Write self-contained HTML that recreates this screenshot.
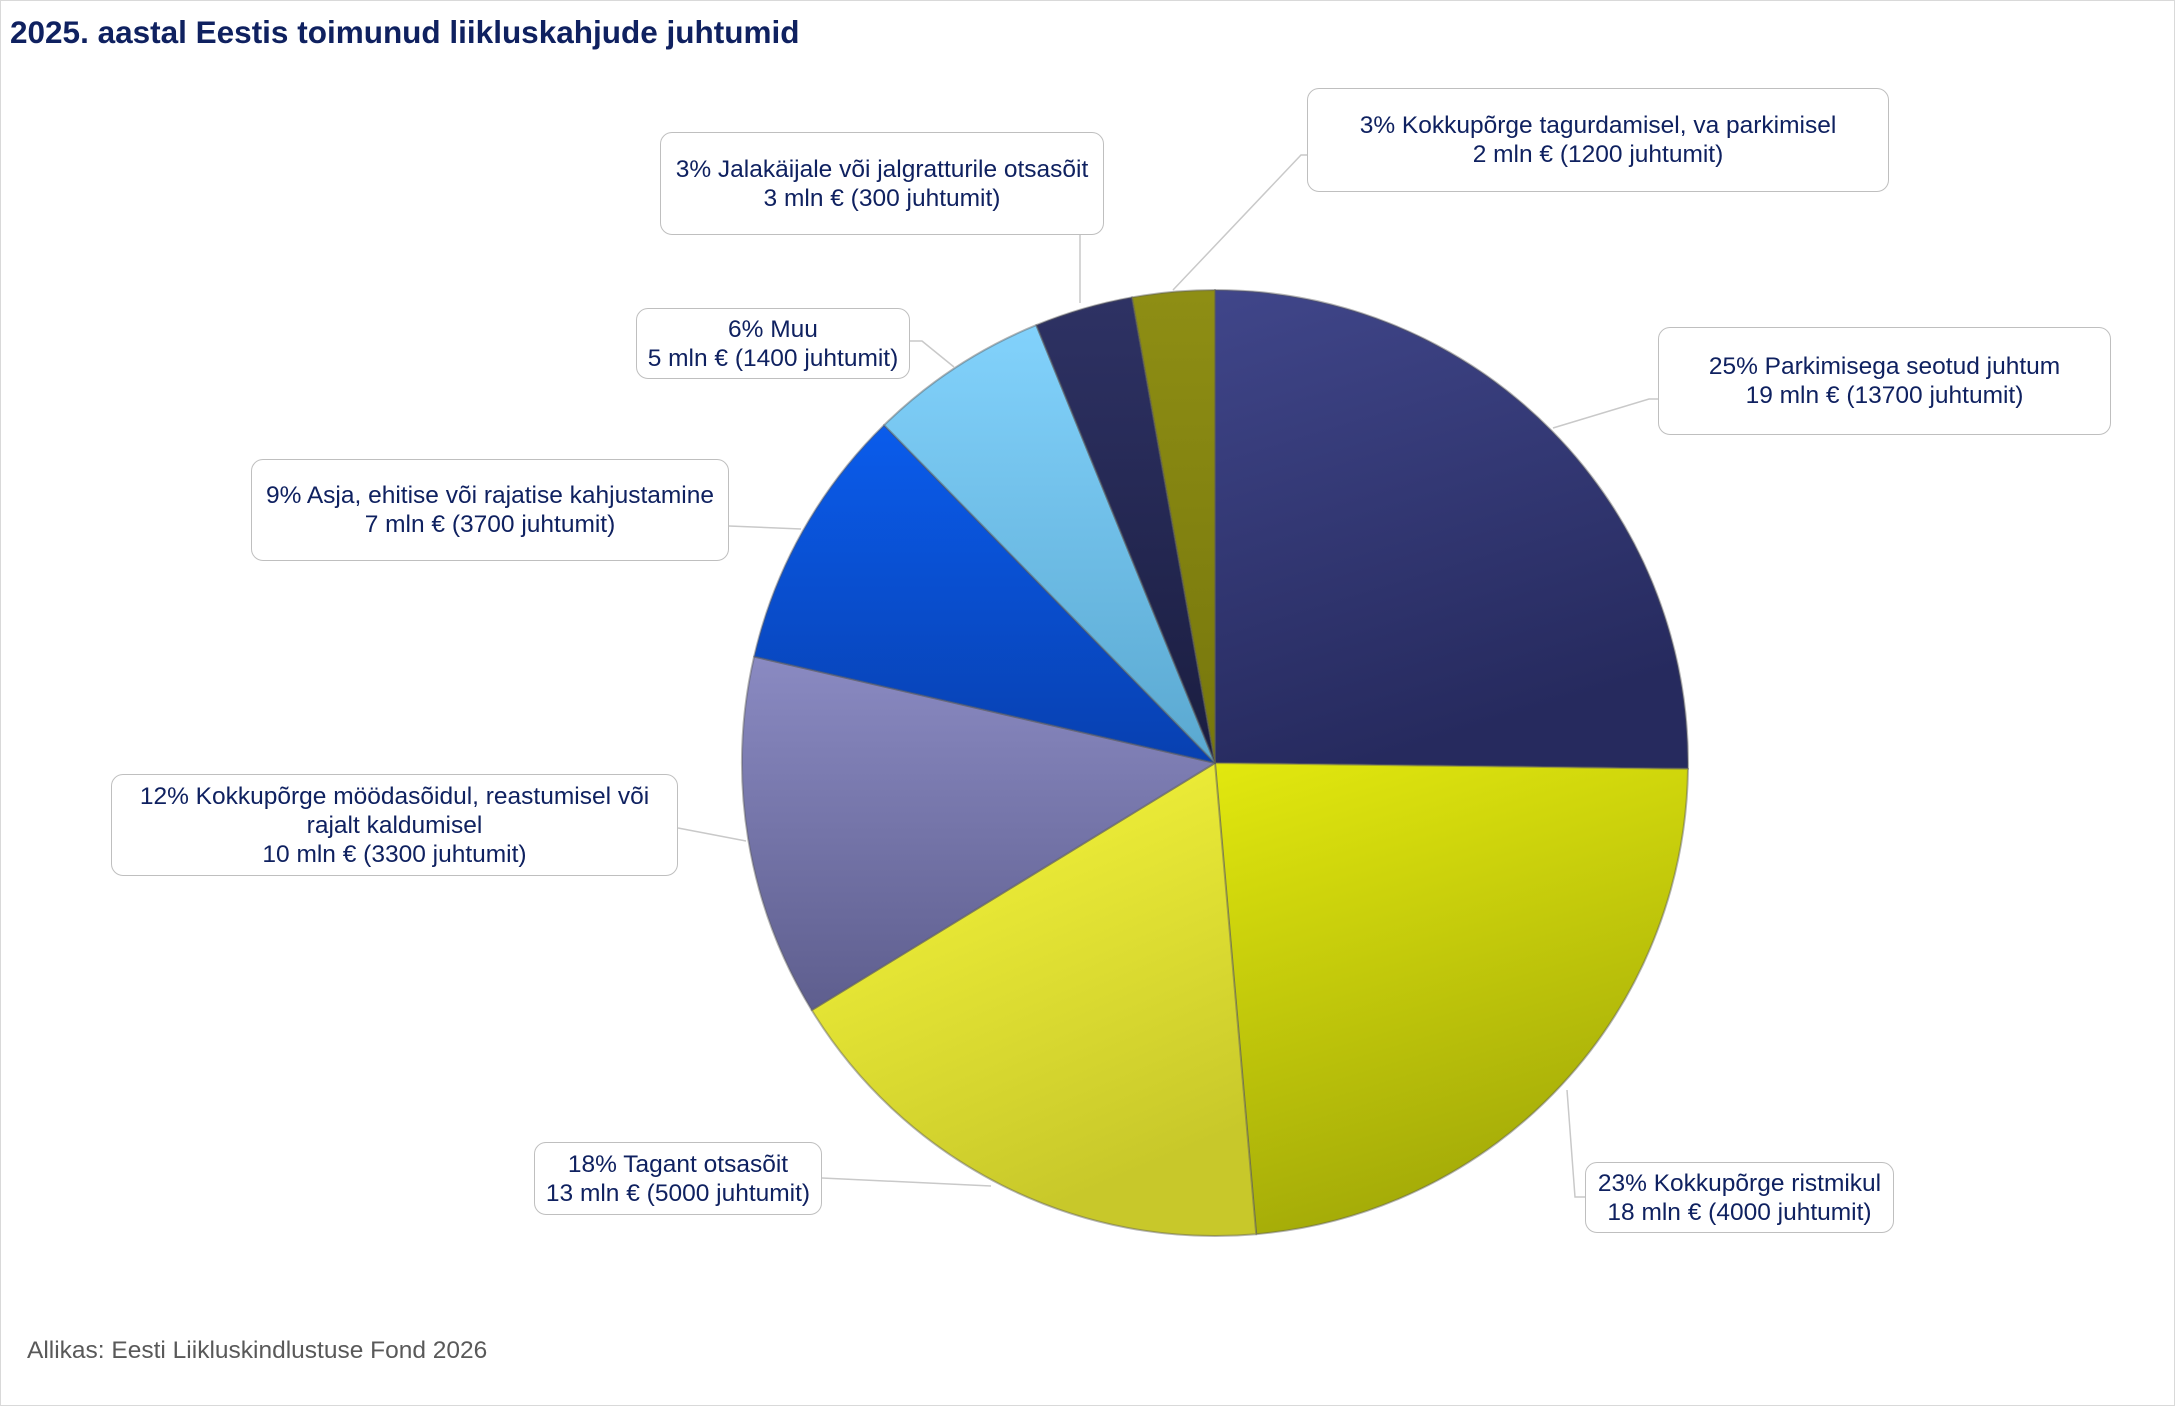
<!DOCTYPE html>
<html><head><meta charset="utf-8"><style>
html,body{margin:0;padding:0;background:#fff;}
#c{position:relative;width:2173px;height:1404px;border:1px solid #d9d9d9;overflow:hidden;font-family:"Liberation Sans",Arial,sans-serif;}
.t{position:absolute;left:9px;top:13px;font-size:31.5px;font-weight:bold;color:#0f2160;white-space:nowrap;}
.s{position:absolute;left:26px;top:1336px;font-size:24.5px;color:#595959;white-space:nowrap;}
.b{position:absolute;box-sizing:border-box;border:1.5px solid #bfbfbf;border-radius:12px;background:#fff;color:#0f2160;font-size:24.5px;line-height:29px;text-align:center;display:flex;align-items:center;justify-content:center;white-space:nowrap;}
svg{position:absolute;left:0;top:0;}
</style></head><body><div id="c">
<svg width="2175" height="1406" viewBox="0 0 2175 1406">
<defs>
<linearGradient id="g1" x1="0" y1="0" x2="0.3" y2="1"><stop offset="0" stop-color="#40468a"/><stop offset="1" stop-color="#262a5e"/></linearGradient>
<linearGradient id="g2" x1="0" y1="0" x2="0.3" y2="1"><stop offset="0" stop-color="#e2e80e"/><stop offset="1" stop-color="#a3aa08"/></linearGradient>
<linearGradient id="g3" x1="0" y1="0" x2="0.4" y2="1"><stop offset="0" stop-color="#fafa3c"/><stop offset="1" stop-color="#c8c82a"/></linearGradient>
<linearGradient id="g4" x1="0" y1="0" x2="0" y2="1"><stop offset="0" stop-color="#8a8ac2"/><stop offset="1" stop-color="#5e5e8e"/></linearGradient>
<linearGradient id="g5" x1="0" y1="0" x2="0" y2="1"><stop offset="0" stop-color="#0a5cec"/><stop offset="1" stop-color="#0840b0"/></linearGradient>
<linearGradient id="g6" x1="0" y1="0" x2="0" y2="1"><stop offset="0" stop-color="#82d2fc"/><stop offset="1" stop-color="#5aa8d0"/></linearGradient>
<linearGradient id="g7" x1="0" y1="0" x2="0" y2="1"><stop offset="0" stop-color="#2e3264"/><stop offset="1" stop-color="#1a1d40"/></linearGradient>
<linearGradient id="g8" x1="0" y1="0" x2="0" y2="1"><stop offset="0" stop-color="#8e8e14"/><stop offset="1" stop-color="#77770c"/></linearGradient>
</defs>
<g stroke="#c9c9c9" stroke-width="1.5" fill="none">
<polyline points="1306,154 1300,154 1172,289"/>
<polyline points="1657,398 1648,398 1552,427"/>
<polyline points="1079,234 1079,302"/>
<polyline points="909,340 921,340 953,366"/>
<polyline points="728,525 800,528"/>
<polyline points="677,827 745,840"/>
<polyline points="821,1177 990,1185"/>
<polyline points="1584,1196 1574,1196 1566,1089"/>
</g>
<g stroke="rgba(90,90,90,0.45)" stroke-width="2" stroke-linejoin="round">
<path d="M1214,762 L1214,289 A473,473 0 0 1 1687,767.8 Z" fill="url(#g1)"/>
<path d="M1214,762 L1687,767.8 A473,473 0 0 1 1255.2,1233.2 Z" fill="url(#g2)"/>
<path d="M1214,762 L1255.2,1233.2 A473,473 0 0 1 810.7,1009.1 Z" fill="url(#g3)"/>
<path d="M1214,762 L810.7,1009.1 A473,473 0 0 1 753.1,655.6 Z" fill="url(#g4)"/>
<path d="M1214,762 L753.1,655.6 A473,473 0 0 1 883.1,424.1 Z" fill="url(#g5)"/>
<path d="M1214,762 L883.1,424.1 A473,473 0 0 1 1035.3,324.1 Z" fill="url(#g6)"/>
<path d="M1214,762 L1035.3,324.1 A473,473 0 0 1 1131,296.3 Z" fill="url(#g7)"/>
<path d="M1214,762 L1131,296.3 A473,473 0 0 1 1214,289 Z" fill="url(#g8)"/>
</g>
</svg>
<div class="t">2025. aastal Eestis toimunud liikluskahjude juhtumid</div>
<div class="b" style="left:1306px;top:87px;width:582px;height:104px;">3% Kokkupõrge tagurdamisel, va parkimisel<br>2 mln € (1200 juhtumit)</div>
<div class="b" style="left:1657px;top:326px;width:453px;height:108px;">25% Parkimisega seotud juhtum<br>19 mln € (13700 juhtumit)</div>
<div class="b" style="left:659px;top:131px;width:444px;height:103px;">3% Jalakäijale või jalgratturile otsasõit<br>3 mln € (300 juhtumit)</div>
<div class="b" style="left:635px;top:307px;width:274px;height:71px;">6% Muu<br>5 mln € (1400 juhtumit)</div>
<div class="b" style="left:250px;top:458px;width:478px;height:102px;">9% Asja, ehitise või rajatise kahjustamine<br>7 mln € (3700 juhtumit)</div>
<div class="b" style="left:110px;top:773px;width:567px;height:102px;">12% Kokkupõrge möödasõidul, reastumisel või<br>rajalt kaldumisel<br>10 mln € (3300 juhtumit)</div>
<div class="b" style="left:533px;top:1141px;width:288px;height:73px;">18% Tagant otsasõit<br>13 mln € (5000 juhtumit)</div>
<div class="b" style="left:1584px;top:1161px;width:309px;height:71px;">23% Kokkupõrge ristmikul<br>18 mln € (4000 juhtumit)</div>
<div class="s">Allikas: Eesti Liikluskindlustuse Fond 2026</div>
</div></body></html>
